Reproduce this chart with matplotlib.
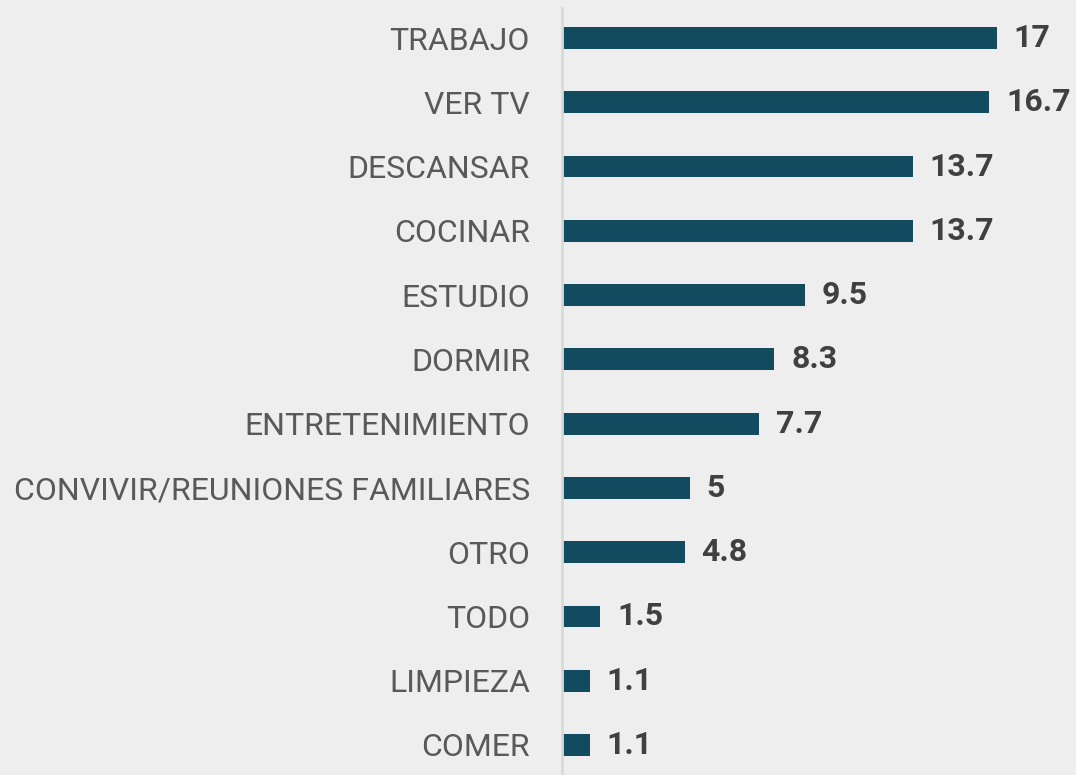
import matplotlib.pyplot as plt

categorias = ["TRABAJO", "VER TV", "DESCANSAR", "COCINAR", "ESTUDIO", "DORMIR",
              "ENTRETENIMIENTO", "CONVIVIR/REUNIONES FAMILIARES", "OTRO", "TODO",
              "LIMPIEZA", "COMER"]
valores = [17, 16.7, 13.7, 13.7, 9.5, 8.3, 7.7, 5, 4.8, 1.5, 1.1, 1.1]
etiquetas = ["17", "16.7", "13.7", "13.7", "9.5", "8.3", "7.7", "5", "4.8", "1.5", "1.1", "1.1"]

plt.rcParams["font.family"] = ["Roboto", "DejaVu Sans"]

fondo = "#eeeeee"
fig = plt.figure(figsize=(10.76, 7.75), dpi=100, facecolor=fondo)
ax = fig.add_axes([562 / 1076, 0, 1 - 562 / 1076, (775 - 8) / 775])
ax.set_facecolor(fondo)

# de abajo hacia arriba
pos = list(range(len(categorias)))[::-1]
bars = ax.barh(pos, valores, height=0.34, color="#124b5f")

for b, txt in zip(bars, etiquetas):
    ax.text(b.get_width() + 0.65, b.get_y() + b.get_height() / 2, txt,
            va="center", ha="left", fontsize=23, fontweight="bold", color="#404040")

ax.set_yticks(pos)
ax.set_yticklabels(categorias, fontsize=23, color="#595959")
ax.tick_params(axis="y", length=0, pad=23)
ax.set_xticks([])

ax.set_xlim(0, 20.08)
ax.set_ylim(-0.467, 11.467)

for s in ["top", "right", "bottom"]:
    ax.spines[s].set_visible(False)
ax.spines["left"].set_color("#d9d9d9")
ax.spines["left"].set_linewidth(2)

fig.savefig("out.png", dpi=100, facecolor=fondo)
